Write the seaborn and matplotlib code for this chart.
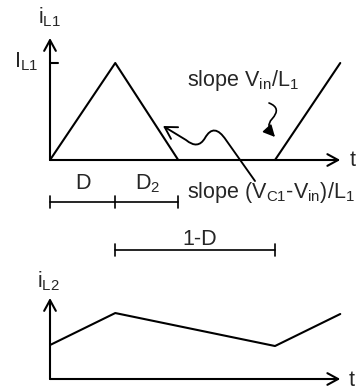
import numpy as np
import pandas as pd
import seaborn as sns
import matplotlib.pyplot as plt
from matplotlib.path import Path
from matplotlib.patches import FancyArrowPatch

sns.set_theme(style='white')
plt.rcParams['font.family'] = ['Liberation Sans', 'DejaVu Sans']
plt.rcParams['mathtext.fontset'] = 'custom'
plt.rcParams['mathtext.rm'] = 'Liberation Sans'
plt.rcParams['mathtext.it'] = 'Liberation Sans'
plt.rcParams['mathtext.default'] = 'regular'

# time in units of the switching period, current normalised to I_L1
D = 0.29
D2 = 0.28
t_il1_a = [0, D, D + D2]
i_il1_a = [0, 1, 0]
t_il1_b = [1, 1 + D]
i_il1_b = [0, 1]
t_il2 = [0, D, 1, 1 + D]
i_il2 = [0.35, 0.68, 0.34, 0.67]

W, H = 359, 392
X0 = 50          # pixel x of both vertical axes
SX = 225         # pixels per period
LW = 1.5
FS = 15.5

fig = plt.figure(figsize=(W / 100, H / 100), dpi=100)

# overlay in pixel coords for arrows and labels
ov = fig.add_axes([0, 0, 1, 1])
ov.set_xlim(0, W)
ov.set_ylim(H, 0)
ov.axis('off')

def tx(t):
    return X0 + SX * t

def panel(ybase, ytop, tmax):
    ax = fig.add_axes([X0 / W, (H - ybase) / H, (tx(tmax) - X0) / W, (ybase - ytop) / H])
    ax.set_xlim(0, tmax)
    ax.set_ylim(0, (ybase - ytop) / 97)
    ax.axis('off')
    ax.patch.set_alpha(0)
    arrow = dict(arrowstyle='->,head_length=0.55,head_width=0.3', lw=LW, color='black',
                 shrinkA=0, shrinkB=0, mutation_scale=14)
    ov.annotate('', xy=(tx(tmax), ybase), xytext=(X0, ybase), arrowprops=arrow)
    ov.annotate('', xy=(X0, ytop), xytext=(X0, ybase), arrowprops=arrow)
    return ax

ax1 = panel(160, 38, 1 + D)
for tt, ii in [(t_il1_a, i_il1_a), (t_il1_b, i_il1_b)]:
    sns.lineplot(x=tt, y=ii, ax=ax1, color='black', lw=LW, sort=False, estimator=None)
for l in ax1.lines:
    l.set_clip_on(False)

ax2 = panel(379, 298, 1 + D)
sns.lineplot(x=t_il2, y=i_il2, ax=ax2, color='black', lw=LW, sort=False, estimator=None)
for l in ax2.lines:
    l.set_clip_on(False)

# I_L1 tick
ov.plot([X0, X0 + 8], [63, 63], color='black', lw=LW)

# labels
ov.text(38, 23, '$i_{L1}$', fontsize=FS, va='baseline')
ov.text(14, 67, '$I_{L1}$', fontsize=FS, va='baseline')
ov.text(350, 166, 't', fontsize=FS, va='baseline')
ov.text(37, 287, '$i_{L2}$', fontsize=FS, va='baseline')
ov.text(349, 386, 't', fontsize=FS, va='baseline')
ov.text(tx(D / 2), 189, 'D', fontsize=FS, va='baseline', ha='center')
ov.text(tx(D) + 20, 189, 'D$_2$', fontsize=FS, va='baseline')
ov.text(187, 86, 'slope V$_{in}$/L$_1$', fontsize=FS, va='baseline')
ov.text(187, 198, 'slope (V$_{C1}$-V$_{in}$)/L$_1$', fontsize=FS, va='baseline')
ov.text(182, 245, '1-D', fontsize=FS, va='baseline')

# interval bars
def interval(ticks, y):
    ov.plot([tx(ticks[0]), tx(ticks[-1])], [y, y], color='black', lw=LW * 0.8)
    for t in ticks:
        ov.plot([tx(t), tx(t)], [y - 6, y + 6], color='black', lw=LW * 0.8)

interval([0, D, D + D2], 202)
interval([D, 1], 250)

# wavy pointer to the falling slope
verts = [(255, 181), (226, 140), (214, 122), (205, 138), (198, 150), (186, 140), (163, 126)]
codes = [Path.MOVETO, Path.LINETO, Path.CURVE3, Path.CURVE3, Path.CURVE3, Path.CURVE3, Path.LINETO]
ov.add_patch(FancyArrowPatch(path=Path(verts, codes), arrowstyle='->,head_length=0.6,head_width=0.35',
                             mutation_scale=14, lw=LW * 0.9, color='black'))

# small squiggle pointing at the rising slope
verts = [(269, 103), (282, 108), (272, 119), (265, 126), (275, 137)]
codes = [Path.MOVETO, Path.CURVE3, Path.CURVE3, Path.CURVE3, Path.CURVE3]
ov.add_patch(FancyArrowPatch(path=Path(verts, codes), arrowstyle='-|>,head_length=0.5,head_width=0.25',
                             mutation_scale=14, lw=LW * 0.8, color='black'))

fig.savefig('out.png', dpi=100)
